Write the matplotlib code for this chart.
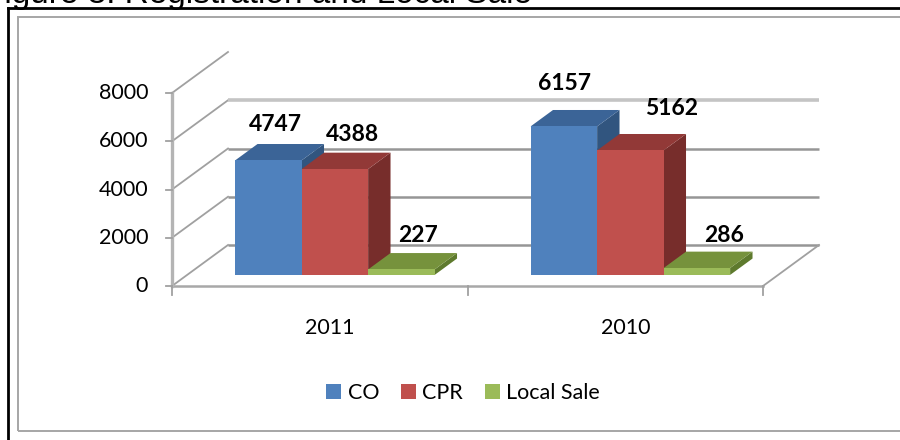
import matplotlib
matplotlib.use('Agg')
import matplotlib.pyplot as plt
from matplotlib.patches import Polygon, Patch, Rectangle
from matplotlib.lines import Line2D

# ---------------- data ----------------
categories = ['2011', '2010']
series = ['CO', 'CPR', 'Local Sale']
co = [4747, 6157]
cpr = [4388, 5162]
local_sale = [227, 286]
y_ticks = [0, 2000, 4000, 6000, 8000]

# ---------------- styles ----------------
front_col = ['#4F81BD', '#C0504D', '#9BBB59']
top_col = ['#3B6497', '#923937', '#76923C']
side_col = ['#31557F', '#772D2B', '#5E7A2D']
label_nudge_px = [[(-15, 0), (-5, 2), (-6, 2)],
                  [(-22, -6), (19, -5), (5, 4)]]

plt.rcParams['font.family'] = ['Lato', 'DejaVu Sans']

W, H = 900, 440
fig = plt.figure(figsize=(W / 100, H / 100), dpi=100)
ax = fig.add_axes([0, 0, 1, 1])
ax.set_axis_off()

# front-plane anchors (pixels from left / top)
PX_X0, PX_X1 = 172, 763
PX_Y0, PX_Y8 = 286, 93
sx = (PX_X1 - PX_X0) / 2.0
sy = (PX_Y0 - PX_Y8) / 8000.0
ax.set_xlim(-0.5 - PX_X0 / sx, 1.5 + (W - PX_X1) / sx)
ax.set_ylim(-(H - PX_Y0) / sy, 8000 + PX_Y8 / sy)

DX = 56 / sx        # full depth x shift
DY = 41 / sy        # full depth y shift (value units)


def P(x, v, z):
    return (x + z * DX, v + z * DY)


grid_dark = '#969696'
grid_light = '#c4c4c4'
xl, xr = -0.5, 1.5

# side wall diagonals
for t in y_ticks:
    a, b = P(xl, t, 0), P(xl, t, 1)
    ax.plot([a[0], b[0]], [a[1], b[1]], color='#a0a0a0', lw=1.3, zorder=1)
# back wall gridlines
for t in y_ticks[:-1]:
    a, b = P(xl, t, 1), P(xr, t, 1)
    top = (t == y_ticks[-2])
    ax.plot([a[0], b[0]], [a[1], b[1]], color=grid_light if top else grid_dark,
            lw=2.6 if top else 1.8, zorder=1, solid_capstyle='butt')
# floor edges
a, b = P(xl, 0, 0), P(xr, 0, 0)
ax.plot([a[0], b[0]], [a[1], b[1]], color='#a8a8a8', lw=1.8, zorder=1)
a, b = P(xr, 0, 0), P(xr, 0, 1)
ax.plot([a[0], b[0]], [a[1], b[1]], color='#a0a0a0', lw=1.3, zorder=1)
# front value axis
a, b = P(xl, 0, 0), P(xl, 8000, 0)
ax.plot([a[0], b[0]], [a[1], b[1]], color='#b4b4b4', lw=2.4, zorder=2)
# value ticks + labels
for t in y_ticks:
    ax.plot([xl - 6 / sx, xl], [t, t], color='#a0a0a0', lw=1.3, zorder=2)
    ax.text(xl - 24 / sx, t, str(t), ha='right', va='center', fontsize=15.5, color='black')
# category ticks + labels
for i in range(len(categories) + 1):
    xt = xl + i
    ax.plot([xt, xt], [0, -9 / sy], color='#a0a0a0', lw=1.3, zorder=2)
for i, c in enumerate(categories):
    ax.text(i + 0.035, -42 / sy, c, ha='center', va='center', fontsize=15.5, color='black')

# bars
values = [co, cpr, local_sale]
z0, z1 = 0.27, 0.67
w = 66.5 / sx
for i in range(len(categories)):
    for k, vals in enumerate(values):
        v = vals[i]
        xc = i + (k - 1) * w
        zo = 3 + i + k * 0.1
        ax.bar(xc + z0 * DX, v, bottom=z0 * DY, width=w, color=front_col[k],
               edgecolor='none', zorder=zo + 0.03)
        bl, br = xc - w / 2, xc + w / 2
        ax.add_patch(Polygon([P(br, 0, z0), P(br, v, z0), P(br, v, z1), P(br, 0, z1)],
                             closed=True, facecolor=side_col[k], edgecolor='none', zorder=zo))
        ax.add_patch(Polygon([P(bl, v, z0), P(br, v, z0), P(br, v, z1), P(bl, v, z1)],
                             closed=True, facecolor=top_col[k], edgecolor='none', zorder=zo + 0.01))
        lx, ly = P(xc, v, z1)
        nx, ny = label_nudge_px[i][k]
        ax.annotate(str(v), (lx, ly), xytext=(nx, 20 - ny), textcoords='offset pixels',
                    ha='center', va='center', fontsize=16.5, fontweight='bold',
                    color='black', zorder=10)

# legend
handles = [Patch(facecolor=front_col[k], edgecolor='none', label=series[k]) for k in range(3)]
fig.legend(handles=handles, loc='center', bbox_to_anchor=(463 / W, 1 - 393 / H), ncol=3,
           frameon=False, fontsize=15.5, handlelength=0.7, handleheight=0.7,
           handletextpad=0.3, columnspacing=1.0)

# frames
fig.add_artist(Line2D([8 / W, 1.0], [1 - 8 / H, 1 - 8 / H], transform=fig.transFigure,
                      color='black', lw=2.0))
fig.add_artist(Line2D([8 / W, 8 / W], [0, 1 - 8 / H], transform=fig.transFigure,
                      color='black', lw=2.0))
fig.add_artist(Rectangle((17.5 / W, (H - 431) / H), 1.2, (431 - 17.5) / H,
                         transform=fig.transFigure, fill=False, edgecolor='#a6a6a6', lw=1.4))

# clipped caption above the chart (only its lower edge shows, as in the reference)
fig.text(-16 / W, 1 - 3 / H, 'Figure 3: Registration and Local Sale', ha='left', va='baseline',
         fontsize=24, family=['Liberation Sans', 'DejaVu Sans'], color='black')

fig.savefig('out.png', dpi=100)
